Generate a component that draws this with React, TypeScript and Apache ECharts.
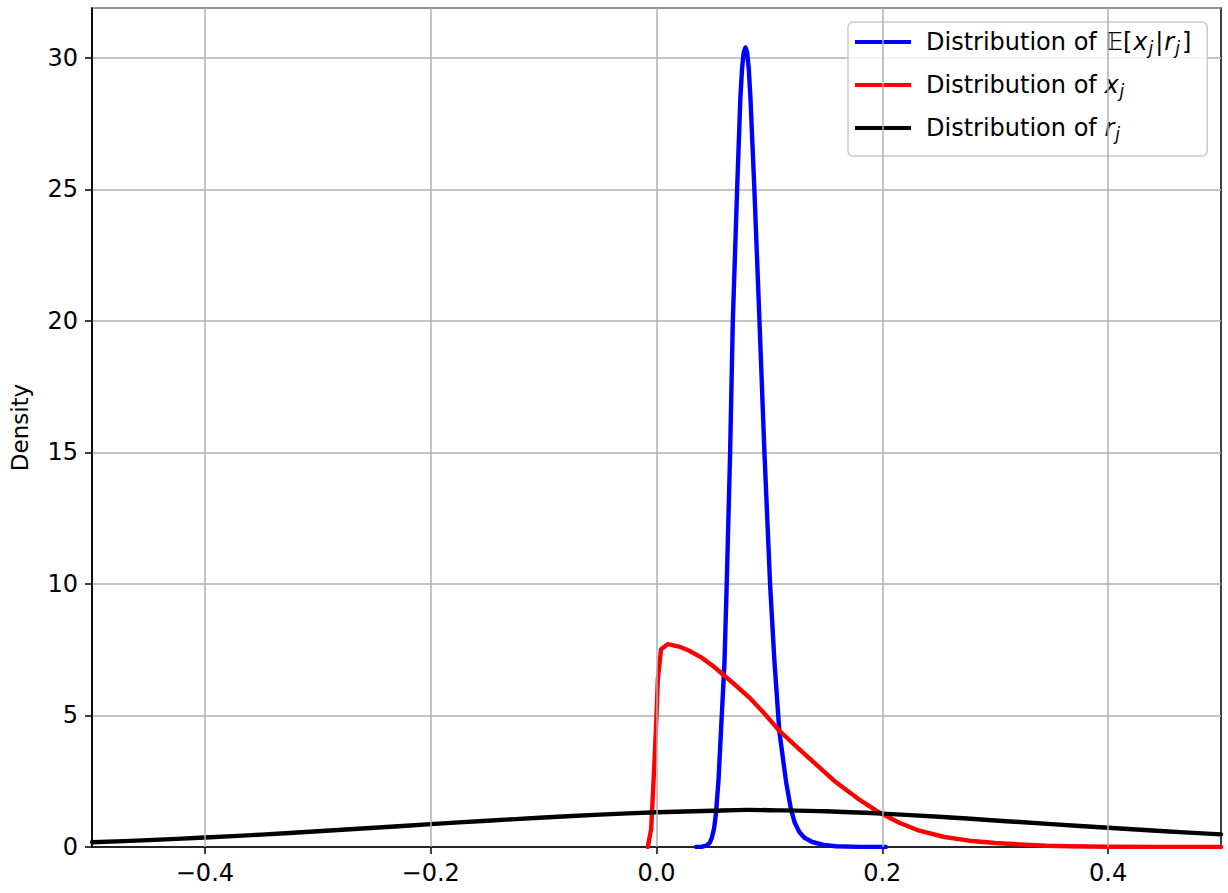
import React, { useEffect, useRef } from "react";
import * as echarts from "echarts";

// ---- Data ----
const seriesNames = [
  "Distribution of E[x_j|r_j]",
  "Distribution of x_j",
  "Distribution of r_j",
];

const blueCurve: [number, number][] = [
  [0.035, 0], [0.04, 0.01], [0.044, 0.05], [0.047, 0.15], [0.049, 0.35],
  [0.051, 0.7], [0.0528, 1.33], [0.055, 2.6], [0.0572, 4.48], [0.0602, 7.0],
  [0.0622, 10], [0.0652, 15], [0.0676, 20], [0.0714, 25], [0.0743, 28.5],
  [0.0758, 29.6], [0.0772, 30.2], [0.0788, 30.4], [0.0803, 30.2], [0.0817, 29.6],
  [0.0832, 28.5], [0.0867, 25],
  [0.0912, 20], [0.0956, 15], [0.1006, 10], [0.1044, 7.1], [0.1088, 4.4],
  [0.1148, 2.47], [0.119, 1.45], [0.1225, 0.92], [0.1265, 0.57], [0.131, 0.35],
  [0.138, 0.19], [0.148, 0.08], [0.159, 0.03], [0.18, 0.005], [0.203, 0],
];

const redCurve: [number, number][] = [
  [-0.0077, 0], [-0.0047, 0.69], [-0.0018, 3.23], [0.0, 5.0], [0.0012, 6.38],
  [0.004, 7.52], [0.01, 7.71], [0.02, 7.62], [0.029, 7.46], [0.04, 7.2],
  [0.05, 6.88], [0.0587, 6.57], [0.07, 6.15], [0.0823, 5.68], [0.095, 5.1],
  [0.1088, 4.42], [0.1295, 3.6], [0.145, 3.0], [0.159, 2.46], [0.178, 1.85],
  [0.197, 1.32], [0.215, 0.92], [0.2327, 0.62], [0.255, 0.38], [0.277, 0.24],
  [0.3, 0.15], [0.321, 0.1], [0.345, 0.05], [0.365, 0.03], [0.4, 0.01],
  [0.45, 0.003], [0.5, 0],
];

const blackCurve: [number, number][] = [
  [-0.5, 0.18], [-0.45, 0.26], [-0.4, 0.36], [-0.35, 0.47], [-0.3, 0.6],
  [-0.25, 0.73], [-0.2, 0.87], [-0.15, 1.0], [-0.1, 1.12], [-0.05, 1.23],
  [0.0, 1.32], [0.05, 1.38], [0.08, 1.41], [0.1, 1.4], [0.15, 1.36],
  [0.2, 1.27], [0.25, 1.15], [0.3, 1.01], [0.35, 0.87], [0.4, 0.73],
  [0.45, 0.6], [0.5, 0.48],
];

const xTicks = [-0.4, -0.2, 0.0, 0.2, 0.4];
const xRange = [-0.5, 0.5];
const yRange = [0, 31.9];
const yStep = 5;

const legendLabels: Record<string, string> = {
  [seriesNames[0]]: "{n|Distribution of }{m|𝔼[}{i|x}{s|j}{m||}{i|r}{s|j}{m|]}",
  [seriesNames[1]]: "{n|Distribution of }{i|x}{s|j}",
  [seriesNames[2]]: "{n|Distribution of }{i|r}{s|j}",
};

const FONT = "DejaVu Sans";

export default function App() {
  const ref = useRef<HTMLDivElement>(null);

  useEffect(() => {
    if (!ref.current) return;
    const chart = echarts.init(ref.current, null, { renderer: "svg" });
    const fmtX = (v: number) => {
      const r = Math.round(v * 10) / 10;
      const s = r.toFixed(1);
      return r < 0 ? "\u2212" + s.slice(1) : s;
    };
    const lineSeries = (name: string, data: [number, number][], color: string, smooth: number | boolean) => ({
      name,
      type: "line",
      data,
      showSymbol: false,
      symbol: "none",
      smooth,
      z: 3,
      lineStyle: { color, width: 4.4, cap: "round", join: "round" },
      itemStyle: { color },
      emphasis: { disabled: true },
    });

    chart.setOption({
      animation: false,
      backgroundColor: "#ffffff",
      grid: {
        left: 92,
        right: 7,
        top: 8,
        bottom: 46,
        show: true,
        borderColor: "#000000",
        borderWidth: 1.5,
        backgroundColor: "transparent",
      },
      legend: {
        orient: "vertical",
        left: 848,
        top: 22,
        data: seriesNames,
        icon: "rect",
        itemWidth: 56,
        itemHeight: 4,
        itemGap: 17,
        padding: [8, 16, 14, 7],
        backgroundColor: "rgba(255,255,255,0.8)",
        borderColor: "#cccccc",
        borderWidth: 1.5,
        borderRadius: 5,
        selectedMode: false,
        formatter: (name: string) => legendLabels[name] || name,
        textStyle: {
          fontFamily: FONT,
          fontSize: 24,
          color: "#000",
          rich: {
            n: { fontFamily: FONT, fontSize: 24, color: "#000", padding: [0, 0, 0, 10] },
            m: { fontFamily: FONT, fontSize: 24, color: "#000", padding: [0, 1, 0, 1] },
            i: { fontFamily: FONT, fontSize: 24, fontStyle: "italic", color: "#000", padding: [0, 1, 0, 0] },
            s: { fontFamily: FONT, fontSize: 17, fontStyle: "italic", color: "#000", padding: [11, 1, 0, 0] },
          },
        },
      },
      xAxis: {
        type: "value",
        min: xRange[0],
        max: xRange[1],
        axisLine: { show: true, onZero: false, lineStyle: { color: "#000", width: 1.5 } },
        axisTick: {
          show: true,
          length: 7,
          inside: false,
          customValues: xTicks,
          lineStyle: { color: "#000", width: 1.5 },
        },
        axisLabel: {
          customValues: xTicks,
          formatter: fmtX,
          color: "#000",
          fontFamily: FONT,
          fontSize: 24,
          margin: 14,
        },
        splitLine: { show: false },
      },
      yAxis: {
        type: "value",
        min: yRange[0],
        max: yRange[1],
        interval: yStep,
        name: "Density",
        nameLocation: "middle",
        nameGap: 61,
        nameTextStyle: { fontFamily: FONT, fontSize: 23, color: "#000" },
        axisLine: { show: true, onZero: false, lineStyle: { color: "#000", width: 1.5 } },
        axisTick: { show: true, length: 7, lineStyle: { color: "#000", width: 1.5 } },
        axisLabel: {
          color: "#000",
          fontFamily: FONT,
          fontSize: 24,
          margin: 14,
          showMaxLabel: false,
          formatter: (v: number) => (v % yStep === 0 ? String(v) : ""),
        },
        splitLine: { show: true, lineStyle: { color: "#b0b0b0", width: 1.5 } },
      },
      series: [
        {
          name: "_grid",
          type: "line",
          data: [[xRange[0], yRange[0]]],
          symbol: "none",
          showSymbol: false,
          z: 1,
          lineStyle: { width: 0, opacity: 0 },
          silent: true,
          markLine: {
            silent: true,
            symbol: "none",
            label: { show: false },
            lineStyle: { color: "#b0b0b0", width: 1.5, type: "solid" },
            emphasis: { disabled: true },
            data: xTicks.map((v) => ({ xAxis: v })),
          },
        },
        lineSeries(seriesNames[0], blueCurve, "#0000ff", false),
        lineSeries(seriesNames[1], redCurve, "#ff0000", false),
        lineSeries(seriesNames[2], blackCurve, "#000000", 0.3),
      ],
    });
    return () => chart.dispose();
  }, []);

  return (
    <div
      ref={ref}
      style={{ position: "fixed", left: 0, top: 0, width: 1228, height: 893 }}
    />
  );
}
